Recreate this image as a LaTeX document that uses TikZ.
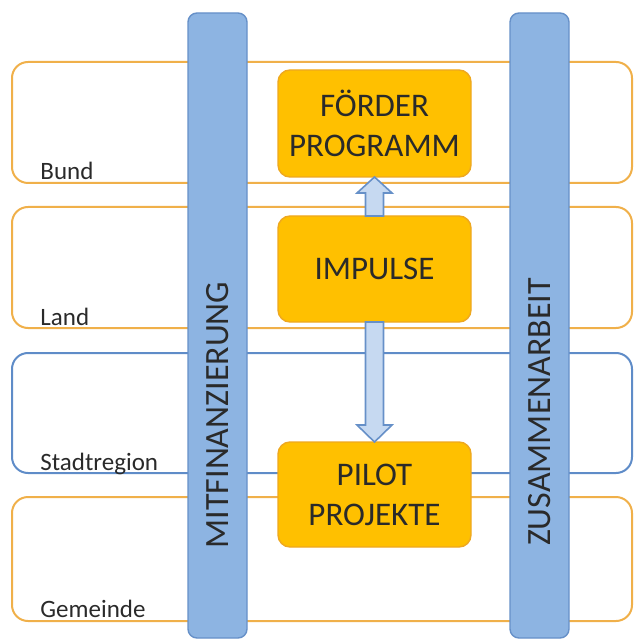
\documentclass[tikz,border=0pt]{standalone}
\usepackage{fontspec}
\setmainfont{Carlito}
\usepackage{tikz}
\usetikzlibrary{calc}

\definecolor{bandorange}{HTML}{F0B04A}
\definecolor{bandblue}{HTML}{5F8CC8}
\definecolor{barfill}{HTML}{8DB4E2}
\definecolor{barline}{HTML}{6690C8}
\definecolor{boxfill}{HTML}{FFC000}
\definecolor{boxline}{HTML}{EEA820}
\definecolor{arrowfill}{HTML}{C6D9F1}
\definecolor{textgray}{HTML}{2A2A2A}

\tikzset{
	band/.style={draw=bandorange, line width=1pt, rounded corners=8pt, minimum width=310pt, outer sep=0pt},
	levelname/.style={anchor=base west, inner sep=0pt, text=textgray, font=\fontsize{12.5}{14}\selectfont},
	bar/.style={draw=barline, fill=barfill, line width=0.7pt, rounded corners=4.5pt, minimum width=29.5pt, minimum height=312.5pt, outer sep=0pt},
	bartext/.style={rotate=90, inner sep=0pt, text=textgray, font=\fontsize{17}{20}\selectfont},
	yellowbox/.style={draw=boxline, fill=boxfill, line width=0.7pt, rounded corners=6pt, minimum width=96.5pt, align=center, outer sep=0pt, text=textgray, font=\fontsize{16.5}{20}\selectfont},
	fatarrow/.style={draw=barline, fill=arrowfill, line width=0.8pt, line join=miter}
}

\begin{document}
\begin{tikzpicture}[x=0.5pt,y=-0.5pt]
	\useasboundingbox (0,0) rectangle (634,640);

	% the four levels
	\node[band, minimum height=60.5pt] (bund) at (322,122.5) {};
	\node[band, minimum height=60.5pt] (land) at (322,267.5) {};
	\node[band, draw=bandblue, minimum height=60pt] (stadt) at (322,413) {};
	\node[band, minimum height=62pt] (gemeinde) at (322,559) {};

	\node[levelname] (lbund) at (40,180) {Bund};
	\node[levelname] (lland) at (40,325) {Land};
	\node[levelname] (lstadt) at (40,470) {Stadtregion};
	\node[levelname] (lgemeinde) at (40,617) {Gemeinde};

	% vertical bars
	\node[bar] (mitbar) at (217.5,325.5) {};
	\node[bar] (zusbar) at (539.5,325.5) {};
	\node[bartext] (mittext) at (218,415) {MITFINANZIERUNG};
	\node[bartext] (zustext) at (540,412) {ZUSAMMENARBEIT};

	% boxes
	\node[yellowbox, minimum height=53.5pt] (foerder) at (374.5,123.5) {FÖRDER\\PROGRAMM};
	\node[yellowbox, minimum height=53pt] (impulse) at (374.5,269) {IMPULSE};
	\node[yellowbox, minimum height=52.5pt] (pilot) at (374.5,494.5) {PILOT\\PROJEKTE};

	% arrows
	\draw[fatarrow] ($(impulse.north)+(-9,0)$) -- ($(foerder.south)+(-9,16)$) -- ++(-8.5,0) -- (foerder.south) -- ($(foerder.south)+(17.5,16)$) -- ++(-8.5,0) -- ($(impulse.north)+(9,0)$) -- cycle;
	\draw[fatarrow] ($(impulse.south)+(-9,0)$) -- ($(pilot.north)+(-9,-17)$) -- ++(-8.5,0) -- (pilot.north) -- ($(pilot.north)+(17.5,-17)$) -- ++(-8.5,0) -- ($(impulse.south)+(9,0)$) -- cycle;
\end{tikzpicture}
\end{document}
